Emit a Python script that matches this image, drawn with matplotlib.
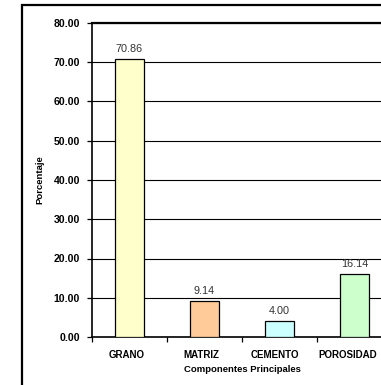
import numpy as np
import matplotlib
matplotlib.use("Agg")
import matplotlib.pyplot as plt
import matplotlib.transforms as mtransforms
from matplotlib.patches import Rectangle

categories = ["GRANO", "MATRIZ", "CEMENTO", "POROSIDAD"]
values = [70.86, 9.14, 4.00, 16.14]
colors = ["#FFFFCC", "#FFCC99", "#CCFFFF", "#CCFFCC"]
yticks = [0, 10, 20, 30, 40, 50, 60, 70, 80]

plt.rcParams['font.family'] = ['Liberation Sans', 'DejaVu Sans']

W, H = 381, 385
fig = plt.figure(figsize=(W / 100, H / 100), dpi=100)

# outer chart frame (only top and left edges are visible in the crop)
fig.patches.append(Rectangle((22 / W, -0.1), 1.2, 1 - 5 / H + 0.1, transform=fig.transFigure,
                             fill=False, edgecolor="black", linewidth=1.6))

ax = fig.add_axes([92 / W, 1 - 337 / H, 300 / W, 314 / H])

x = np.arange(len(categories))
ax.bar(x, values, width=0.39, color=colors, edgecolor="black", linewidth=0.9, zorder=3)

for xi, v in zip(x, values):
    ax.annotate(f"{v:.2f}", (xi, v), xytext=(0, 3.5), textcoords="offset points",
                ha="center", va="bottom", fontsize=7.8, color="#333333")

ax.set_ylim(0, 80)
ax.set_xlim(-0.5, len(categories) - 0.5)
ax.set_yticks(yticks)
ax.set_yticklabels([f"{t:.2f}" for t in yticks], fontsize=7.6, fontweight="bold")
ax.yaxis.grid(True, color="black", linewidth=0.8, zorder=0)

ax.set_xticks(np.arange(len(categories) + 1) - 0.5)
ax.set_xticklabels([])
ax.set_xticks(x, minor=True)
ax.set_xticklabels(categories, minor=True, fontsize=7.0, fontweight="bold")
ax.tick_params(axis="x", which="minor", length=0, pad=9)
ax.tick_params(axis="both", which="major", length=3.5, width=0.9, direction="out")
ax.tick_params(axis="y", pad=5)

# labels sit slightly left of the bar centres in the original (last one squeezed by the crop)
shifts = [-3, -3, -5, -7]
for lab, dx in zip(ax.get_xticklabels(minor=True), shifts):
    lab.set_transform(lab.get_transform() + mtransforms.ScaledTranslation(dx / 100, 0, fig.dpi_scale_trans))

for s in ["top", "right"]:
    ax.spines[s].set_visible(False)
ax.spines["left"].set_linewidth(1.2)
ax.spines["bottom"].set_linewidth(1.2)
ax.axhline(80, color="black", linewidth=1.6, zorder=4, clip_on=False)

ax.set_xlabel("Componentes Principales", fontsize=6.8, fontweight="bold", labelpad=4)
fig.text(40 / W, 1 - 180 / H, "Porcentaje", rotation=90, fontsize=6.8, fontweight="bold",
         ha="center", va="center")

fig.savefig("out.png", dpi=100)
